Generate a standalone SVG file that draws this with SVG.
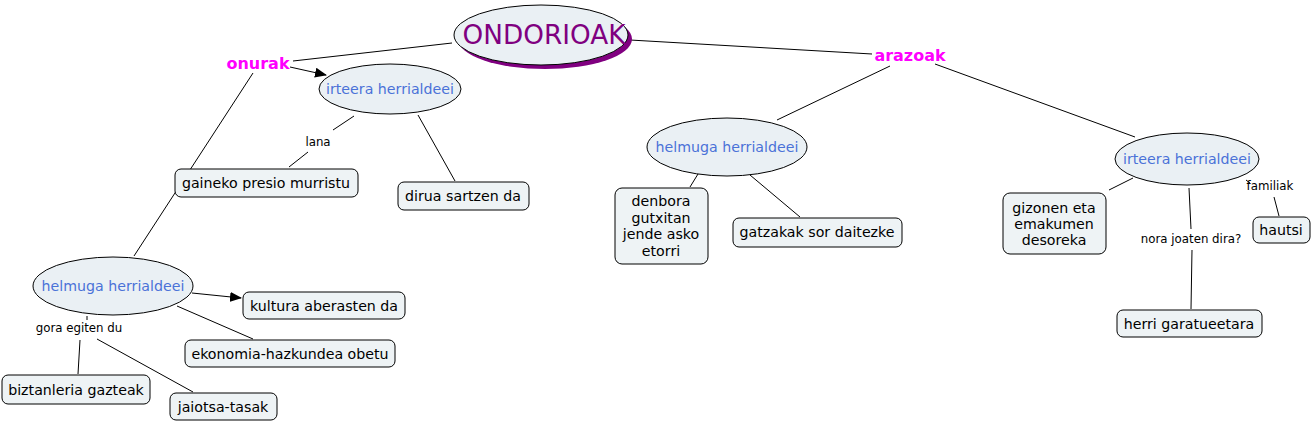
<svg xmlns="http://www.w3.org/2000/svg" width="1313" height="424" viewBox="0 0 1313 424">
<style>
text{font-family:"DejaVu Sans",Verdana,sans-serif;}
.box{fill:#eef3f5;stroke:#000;stroke-width:1;}
.ell{fill:#eaf0f4;stroke:#000;stroke-width:1;}
.bt{font-size:14.2px;fill:#000;text-anchor:middle;}
.et{font-size:14.2px;fill:#4a72d8;text-anchor:middle;}
.lt{font-size:11.8px;fill:#000;text-anchor:middle;}
.kt{font-size:16px;font-weight:bold;fill:#ff00ff;text-anchor:middle;}
.ln{stroke:#000;stroke-width:1;fill:none;}
</style>
<defs>
<marker id="arr" markerWidth="12" markerHeight="10" refX="11" refY="5" orient="auto" markerUnits="userSpaceOnUse">
<path d="M0,0 L12,5 L0,10 Z" fill="#000"/>
</marker>
</defs>
<rect width="1313" height="424" fill="#fff"/>
<g id="connectors">
<line class="ln" x1="452" y1="43" x2="293" y2="61"/>
<line class="ln" x1="630" y1="40" x2="872" y2="54"/>
<line class="ln" x1="290" y1="67" x2="326" y2="75" marker-end="url(#arr)"/>
<line class="ln" x1="253" y1="73" x2="134" y2="256"/>
<line class="ln" x1="354" y1="116" x2="333" y2="130"/>
<line class="ln" x1="308" y1="152" x2="289" y2="167"/>
<line class="ln" x1="418" y1="115" x2="455" y2="181"/>
<line class="ln" x1="890" y1="66" x2="777" y2="120"/>
<line class="ln" x1="935" y1="64" x2="1135" y2="137"/>
<line class="ln" x1="698" y1="174" x2="690" y2="187"/>
<line class="ln" x1="750" y1="175" x2="800" y2="217"/>
<line class="ln" x1="1133" y1="178" x2="1109" y2="190"/>
<line class="ln" x1="1189" y1="188" x2="1191" y2="229"/>
<line class="ln" x1="1192" y1="250" x2="1191" y2="309"/>
<line class="ln" x1="1246" y1="180" x2="1250" y2="183"/>
<line class="ln" x1="1274" y1="197" x2="1279" y2="216"/>
<line class="ln" x1="192" y1="293" x2="241" y2="298" marker-end="url(#arr)"/>
<line class="ln" x1="177" y1="306" x2="253" y2="339"/>
<line class="ln" x1="87" y1="316" x2="87" y2="320"/>
<line class="ln" x1="80" y1="340" x2="78" y2="374"/>
<line class="ln" x1="97" y1="339" x2="193" y2="392"/>
</g>
<g id="n-ondorioak">
<ellipse cx="545" cy="39" rx="87" ry="30" fill="#800080"/>
<ellipse class="ell" cx="541" cy="35" rx="87" ry="30"/>
<text x="544" y="44" font-size="26.3" fill="#800080" text-anchor="middle">ONDORIOAK</text>
</g>
<g id="n-onurak"><text class="kt" x="258" y="69">onurak</text></g>
<g id="n-arazoak"><text class="kt" x="910" y="61">arazoak</text></g>
<g id="n-irteera1">
<ellipse class="ell" cx="390" cy="89" rx="71" ry="25"/>
<text class="et" x="390" y="94">irteera herrialdeei</text>
</g>
<g id="l-lana"><text class="lt" x="318" y="146">lana</text></g>
<g id="n-gaineko">
<rect class="box" x="175" y="169" width="183" height="28" rx="6"/>
<text class="bt" x="266" y="188">gaineko presio murristu</text>
</g>
<g id="n-dirua">
<rect class="box" x="398" y="182" width="131" height="28" rx="6"/>
<text class="bt" x="463" y="201">dirua sartzen da</text>
</g>
<g id="n-helmuga1">
<ellipse class="ell" cx="113" cy="286" rx="80" ry="29"/>
<text class="et" x="113" y="291">helmuga herrialdeei</text>
</g>
<g id="n-kultura">
<rect class="box" x="243" y="292" width="162" height="27" rx="6"/>
<text class="bt" x="324" y="311">kultura aberasten da</text>
</g>
<g id="n-ekonomia">
<rect class="box" x="185" y="340" width="210" height="27" rx="6"/>
<text class="bt" x="290" y="359">ekonomia-hazkundea obetu</text>
</g>
<g id="l-gora"><text class="lt" x="79" y="332">gora egiten du</text></g>
<g id="n-biztanleria">
<rect class="box" x="2" y="375" width="148" height="29" rx="6"/>
<text class="bt" x="76" y="395">biztanleria gazteak</text>
</g>
<g id="n-jaiotsa">
<rect class="box" x="170" y="393" width="107" height="27" rx="6"/>
<text class="bt" x="223" y="412">jaiotsa-tasak</text>
</g>
<g id="n-helmuga2">
<ellipse class="ell" cx="727" cy="147" rx="80" ry="29"/>
<text class="et" x="727" y="152">helmuga herrialdeei</text>
</g>
<g id="n-denbora">
<rect class="box" x="615" y="188" width="93" height="76" rx="7"/>
<text class="bt" x="661" y="206">denbora</text>
<text class="bt" x="661" y="223">gutxitan</text>
<text class="bt" x="661" y="239">jende asko</text>
<text class="bt" x="661" y="256">etorri</text>
</g>
<g id="n-gatzakak">
<rect class="box" x="733" y="218" width="169" height="29" rx="6"/>
<text class="bt" x="817" y="237">gatzakak sor daitezke</text>
</g>
<g id="n-irteera2">
<ellipse class="ell" cx="1187" cy="159" rx="72" ry="26"/>
<text class="et" x="1187" y="164">irteera herrialdeei</text>
</g>
<g id="n-gizonen">
<rect class="box" x="1003" y="193" width="103" height="61" rx="7"/>
<text class="bt" x="1054" y="213">gizonen eta</text>
<text class="bt" x="1054" y="229">emakumen</text>
<text class="bt" x="1054" y="245">desoreka</text>
</g>
<g id="l-familiak"><text class="lt" x="1270" y="190">familiak</text></g>
<g id="n-hautsi">
<rect class="box" x="1253" y="217" width="57" height="26" rx="6"/>
<text class="bt" x="1281" y="235">hautsi</text>
</g>
<g id="l-nora"><text class="lt" x="1191" y="243">nora joaten dira?</text></g>
<g id="n-herri">
<rect class="box" x="1117" y="310" width="145" height="27" rx="6"/>
<text class="bt" x="1189" y="329">herri garatueetara</text>
</g>
</svg>
